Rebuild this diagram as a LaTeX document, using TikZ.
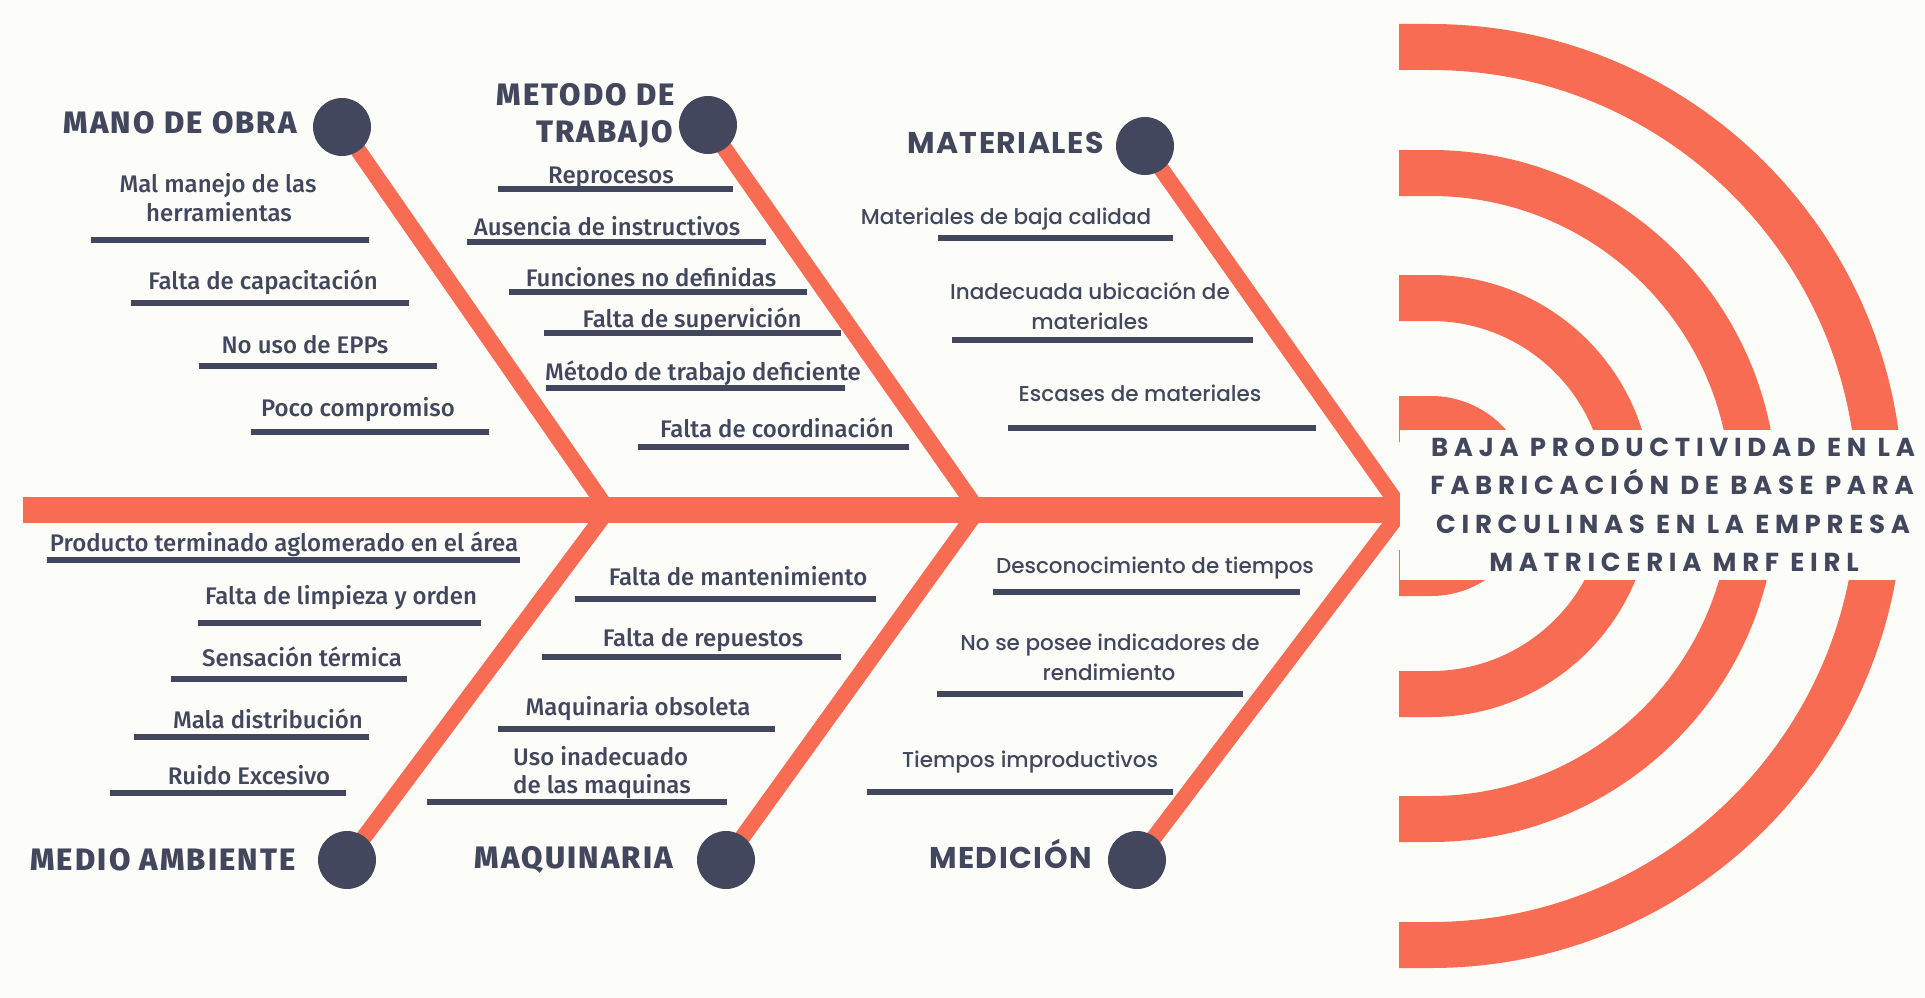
\documentclass[tikz,border=0pt]{standalone}
\usepackage{fontspec}
\setmainfont{Fira Sans}
\newfontfamily\firaM{Fira Sans Medium}
\newfontfamily\firaH{Fira Sans ExtraBold}[LetterSpace=7]
\newfontfamily\popM{Poppins Medium}
\newfontfamily\popB{Poppins Bold}[LetterSpace=5]
\newfontfamily\popT{Poppins Bold}[LetterSpace=22]
\definecolor{fbOrange}{RGB}{247,108,82}
\definecolor{fbDark}{RGB}{67,71,94}
\definecolor{fbBg}{RGB}{252,253,248}
\begin{document}
\begin{tikzpicture}[x=1pt,y=-1pt,
  spine/.style={draw=fbOrange,line width=26pt},
  bone/.style={draw=fbOrange,line width=16pt},
  ring/.style={draw=fbOrange,line width=46pt},
  ul/.style={draw=fbDark,line width=6pt},
  dot/.style={circle,fill=fbDark,minimum size=58pt,inner sep=0pt},
  headA/.style={font=\firaH\fontsize{31}{34}\selectfont,text=fbDark,inner sep=0pt,anchor=base east,yshift=-10.5pt},
  headB/.style={font=\popB\fontsize{30}{34}\selectfont,text=fbDark,inner sep=0pt,anchor=base east,yshift=-10.5pt},
  labA/.style={font=\firaM\fontsize{24}{28}\selectfont,text=fbDark,inner sep=0pt,anchor=base,yshift=-8pt},
  labB/.style={font=\popM\fontsize{21.5}{25}\selectfont,text=fbDark,inner sep=0pt,anchor=base,yshift=-7.5pt},
  ttl/.style={font=\popT\fontsize{26}{28}\selectfont,text=fbDark,inner sep=0pt,anchor=base,yshift=-9pt}]
\useasboundingbox (0,0) rectangle (1925,998);
\fill[fbBg] (0,0) rectangle (1925,998);

% rings
\foreach \r in {449,323,198,77}{
  \draw[ring] (1399,{496-\r}) -- (1431,{496-\r}) arc[start angle=90,end angle=-90,x radius=\r,y radius=-\r] -- (1399,{496+\r});
}

% junctions and circle centres
\coordinate (J1) at (608,510);
\coordinate (J2) at (978,510);
\coordinate (J3) at (1402,510);
\coordinate (cMano) at (342,127);
\coordinate (cMet) at (708,125);
\coordinate (cMat) at (1145,146);
\coordinate (cMed) at (347,860);
\coordinate (cMaq) at (726,860);
\coordinate (cMdc) at (1137,860);
\coordinate (tail) at (23,510);
\coordinate (head) at (1400,510);

\draw[bone] (cMano) -- (J1);
\draw[bone] (cMed) -- (J1);
\draw[bone] (cMet) -- (J2);
\draw[bone] (cMaq) -- (J2);
\draw[bone] (cMat) -- (J3);
\draw[bone] (cMdc) -- (J3);
\draw[spine] (tail) -- (head);

\node[dot] (dMano) at (cMano) {};
\node[dot] (dMet) at (cMet) {};
\node[dot] (dMat) at (cMat) {};
\node[dot] (dMed) at (cMed) {};
\node[dot] (dMaq) at (cMaq) {};
\node[dot] (dMdc) at (cMdc) {};

% headings
\node[headA] (hMano) at (297,123) {MANO DE OBRA};
\node[headA] (hMet1) at (675,95) {METODO DE};
\node[headA] (hMet2) at (673,132) {TRABAJO};
\node[headB] (hMat) at (1104,143) {MATERIALES};
\node[headA] (hMed) at (296,860) {MEDIO AMBIENTE};
\node[headA] (hMaq) at (673,858) {MAQUINARIA};
\node[headB] (hMdc) at (1092,858) {MEDICIÓN};

% MANO DE OBRA
\node[labA] (a1a) at (218,184) {Mal manejo de las};
\node[labA] (a1b) at (219,213) {herramientas};
\draw[ul] (91,240) -- (369,240);
\node[labA] (a2) at (263,281) {Falta de capacitación};
\draw[ul] (131,303) -- (409,303);
\node[labA] (a3) at (305,345) {No uso de EPPs};
\draw[ul] (199,366) -- (437,366);
\node[labA] (a4) at (358,408) {Poco compromiso};
\draw[ul] (251,432) -- (489,432);

% METODO DE TRABAJO
\node[labA] (b1) at (611,175) {Reprocesos};
\draw[ul] (498,189) -- (733,189);
\node[labA] (b2) at (607,227) {Ausencia de instructivos};
\draw[ul] (467,242) -- (766,242);
\node[labA] (b3) at (651,278) {Funciones no definidas};
\draw[ul] (509,292) -- (807,292);
\node[labA] (b4) at (692,319) {Falta de supervición};
\draw[ul] (544,333) -- (841,333);
\node[labA] (b5) at (703,372) {Método de trabajo deficiente};
\draw[ul] (546,388) -- (845,388);
\node[labA] (b6) at (777,429) {Falta de coordinación};
\draw[ul] (638,447) -- (909,447);

% MATERIALES
\node[labB] (c1) at (1006,217) {Materiales de baja calidad};
\draw[ul] (938,238) -- (1173,238);
\node[labB] (c2a) at (1090,292) {Inadecuada ubicación de};
\node[labB] (c2b) at (1090,322) {materiales};
\draw[ul] (952,340) -- (1253,340);
\node[labB] (c3) at (1140,394) {Escases de materiales};
\draw[ul] (1008,428) -- (1316,428);

% MEDIO AMBIENTE
\node[labA] (d1) at (284,543) {Producto terminado aglomerado en el área};
\draw[ul] (47,560) -- (520,560);
\node[labA] (d2) at (341,596) {Falta de limpieza y orden};
\draw[ul] (198,623) -- (481,623);
\node[labA] (d3) at (302,658) {Sensación térmica};
\draw[ul] (171,679) -- (407,679);
\node[labA] (d4) at (268,720) {Mala distribución};
\draw[ul] (134,737) -- (369,737);
\node[labA] (d5) at (249,776) {Ruido Excesivo};
\draw[ul] (110,793) -- (346,793);

% MAQUINARIA
\node[labA] (e1) at (738,577) {Falta de mantenimiento};
\draw[ul] (575,599) -- (876,599);
\node[labA] (e2) at (703,638) {Falta de repuestos};
\draw[ul] (542,657) -- (841,657);
\node[labA] (e3) at (638,707) {Maquinaria obsoleta};
\draw[ul] (498,729) -- (775,729);
\node[labA,anchor=base west] (e4a) at (513,757) {Uso inadecuado};
\node[labA,anchor=base west] (e4b) at (513,785) {de las maquinas};
\draw[ul] (427,802) -- (727,802);

% MEDICION
\node[labB] (f1) at (1155,566) {Desconocimiento de tiempos};
\draw[ul] (993,592) -- (1300,592);
\node[labB] (f2a) at (1110,643) {No se posee indicadores de};
\node[labB] (f2b) at (1109,673) {rendimiento};
\draw[ul] (937,694) -- (1243,694);
\node[labB] (f3) at (1030,760) {Tiempos improductivos};
\draw[ul] (867,792) -- (1173,792);

% title box
\fill[fbBg] (1400,430) rectangle (1925,580);
\node[ttl] (t1) at (1673,447) {BAJA PRODUCTIVIDAD EN LA};
\node[ttl] (t2) at (1672,485) {FABRICACIÓN DE BASE PARA};
\node[ttl] (t3) at (1673,524) {CIRCULINAS EN LA EMPRESA};
\node[ttl] (t4) at (1674,562) {MATRICERIA MRF EIRL};
\end{tikzpicture}
\end{document}
